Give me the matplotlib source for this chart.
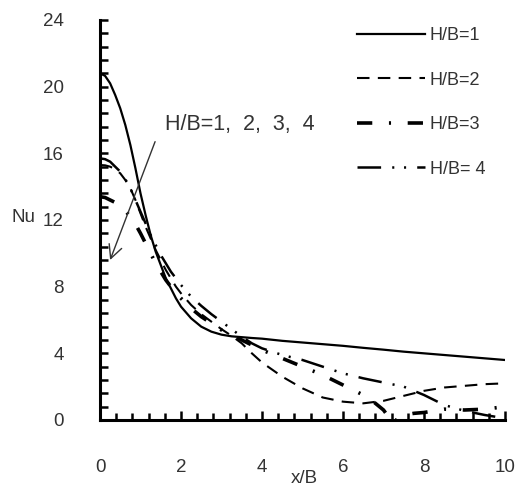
import matplotlib
matplotlib.use("Agg")
import matplotlib.pyplot as plt
from matplotlib.ticker import MultipleLocator

plt.rcParams['font.family'] = ['Liberation Sans', 'DejaVu Sans']
plt.rcParams['lines.scale_dashes'] = False

x = [0, 0.125, 0.25, 0.375, 0.5, 0.625, 0.75, 0.875, 1.0, 1.125, 1.25, 1.375,
     1.5, 1.625, 1.75, 1.875, 2.0, 2.25, 2.5, 2.75, 3.0, 3.25, 3.5, 3.75, 4.0,
     4.5, 5.0, 5.5, 6.0, 6.5, 7.0, 7.5, 8.0, 8.5, 9.0, 9.5, 10.0]
nu_hb1 = [20.8, 20.65, 20.2, 19.5, 18.7, 17.7, 16.5, 15.1, 13.6, 12.3, 11.1, 10.1,
          9.3, 8.5, 7.9, 7.3, 6.8, 6.1, 5.6, 5.3, 5.12, 5.02, 4.97, 4.92, 4.88,
          4.75, 4.65, 4.55, 4.45, 4.33, 4.22, 4.1, 4.0, 3.9, 3.8, 3.7, 3.6]
nu_hb2 = [15.3, 15.28, 15.2, 15.05, 14.8, 14.4, 13.9, 13.2, 12.4, 11.6, 10.9, 10.2,
          9.6, 9.0, 8.5, 8.0, 7.6, 6.9, 6.35, 5.9, 5.45, 5.05, 4.6, 4.0, 3.45,
          2.6, 1.9, 1.35, 1.1, 1.0, 1.15, 1.45, 1.75, 1.95, 2.05, 2.15, 2.2]
x3 = [0, 0.125, 0.25, 0.375, 0.5, 0.625, 0.75, 0.875, 1.0, 1.125, 1.25, 1.375,
      1.5, 1.625, 1.75, 1.875, 2.0, 2.25, 2.5, 2.75, 3.0, 3.25, 3.5, 3.75, 4.0,
      4.5, 5.0, 5.5, 6.0, 6.25, 6.5, 6.75, 7.0, 7.15, 7.25, 7.35, 7.5, 7.75,
      8.0, 8.5, 9.0, 9.5, 10.0]
nu_hb3 = [13.4, 13.35, 13.2, 13.05, 12.85, 12.55, 12.2, 11.75, 11.2, 10.6, 10.0, 9.4,
          8.9, 8.4, 8.0, 7.6, 7.3, 6.7, 6.2, 5.8, 5.4, 5.1, 4.8, 4.5, 4.2,
          3.7, 3.2, 2.7, 2.1, 1.8, 1.5, 1.1, 0.6, 0.1, -0.2, 0.1, 0.3, 0.4,
          0.45, 0.65, 0.6, 0.65, 0.8]
nu_hb4 = [15.7, 15.65, 15.5, 15.2, 14.9, 14.45, 13.9, 13.2, 12.5, 11.8, 11.1, 10.5,
          9.9, 9.4, 8.9, 8.5, 8.1, 7.4, 6.85, 6.35, 5.9, 5.45, 5.0, 4.6, 4.3,
          3.9, 3.6, 3.2, 2.8, 2.5, 2.25, 2.0, 1.5, 0.9, 0.55, 0.3, 0.1]

labels = ['H/B=1', 'H/B=2', 'H/B=3', 'H/B= 4']

fig = plt.figure(figsize=(5.21, 4.97), dpi=100)
ax = fig.add_axes([100/521, 77/497, 405/521, 400/497])

ax.plot(x, nu_hb1, color='black', lw=1.6, ls='-', label=labels[0])
ax.plot(x, nu_hb2, color='black', lw=1.5, ls=(0, (9, 6)), label=labels[1])
ax.plot(x3, nu_hb3, color='black', lw=2.6, ls=(0, (11, 12, 1.5, 12)), label=labels[2])
ax.plot(x, nu_hb4, color='black', lw=1.8, ls=(0, (17, 8, 1.5, 7, 1.5, 8)), label=labels[3])

ax.set_xlim(0, 10)
ax.set_ylim(0, 24)
ax.xaxis.set_major_locator(MultipleLocator(2))
ax.xaxis.set_minor_locator(MultipleLocator(0.4))
ax.yaxis.set_major_locator(MultipleLocator(4))
ax.yaxis.set_minor_locator(MultipleLocator(0.8))

for s in ['top', 'right']:
    ax.spines[s].set_visible(False)
for s in ['left', 'bottom']:
    ax.spines[s].set_linewidth(2.2)

ax.tick_params(which='both', direction='in', width=1.8, colors='black',
               labelcolor='#333333', labelsize=13.5)
ax.tick_params(axis='y', which='both', length=6, pad=26)
ax.tick_params(axis='x', which='major', length=6.5, pad=28)
ax.tick_params(axis='x', which='minor', length=5)

ax.set_xlabel('x/B', fontsize=13.5, color='#333333')
ax.xaxis.set_label_coords(0.505, -0.125)
ax.set_ylabel('Nu', fontsize=13.5, color='#333333', rotation=0,
              ha='center', va='center')
ax.yaxis.set_label_coords(-0.19, 0.505)

ax.annotate('', xy=(0.25, 9.6), xytext=(1.36, 16.7),
            arrowprops=dict(arrowstyle='->', lw=1.0, color='#333333',
                            mutation_scale=24, shrinkA=0, shrinkB=0))
ax.text(1.6, 17.75, 'H/B=1,  2,  3,  4', fontsize=15.5, color='#333333',
        ha='left', va='center')

leg = ax.legend(loc='upper left', bbox_to_anchor=(0.635, 0.982), frameon=False,
                fontsize=13, handlelength=3.75, handletextpad=0.28,
                labelspacing=1.52, borderpad=0, borderaxespad=0)
for t in leg.get_texts():
    t.set_color('#333333')

fig.savefig('out.png', dpi=100)
